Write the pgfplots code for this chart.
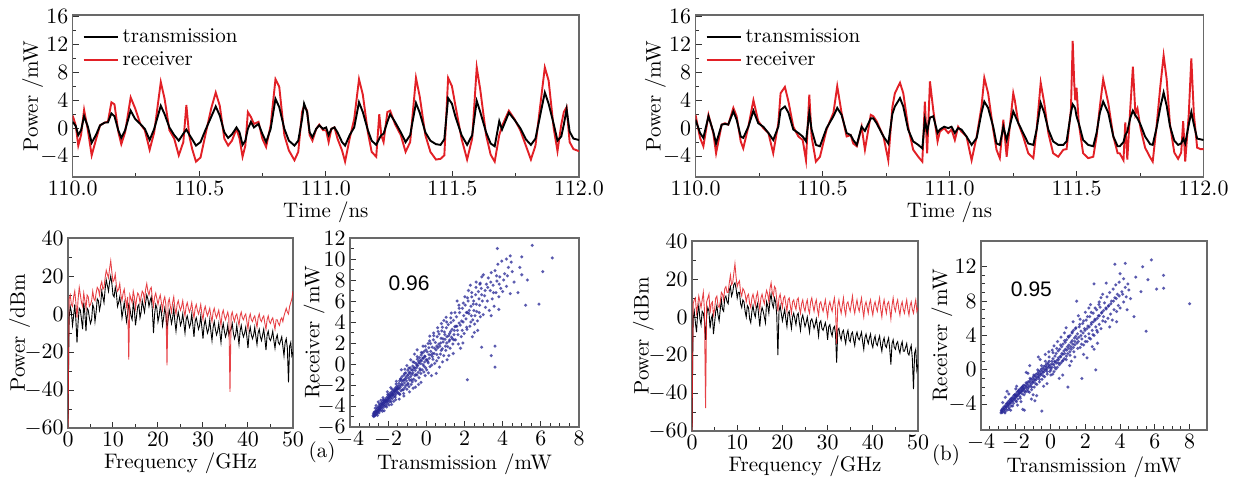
\documentclass[border=0pt]{standalone}
\usepackage{pgfplots}
\pgfplotsset{compat=1.18}
\usepackage{pgfplotstable}
\usepackage{fontspec}
\newfontfamily\arialf{Liberation Sans}
\definecolor{rred}{RGB}{226,32,38}
\definecolor{sblue}{RGB}{40,40,150}
\definecolor{frame}{RGB}{105,105,105}

\pgfplotsset{
  base/.style={scale only axis, anchor=south west,
    font=\fontsize{10.5}{12}\selectfont,
    axis line style={frame, line width=0.7pt},
    tick align=inside, xtick pos=left, ytick pos=left,
    major tick length=3pt, minor tick length=1.8pt,
    tick style={black!80, line width=0.5pt},
    xlabel style={inner sep=1pt}, ylabel style={inner sep=1pt},
    tick label style={inner sep=2pt}},
  ylab/.style={ylabel style={at={(axis description cs:#1,0.5)}, anchor=center}},
  timeax/.style={base, ylab=-0.079, xmin=110, xmax=112, ymin=-7, ymax=16.2,
    xtick={110,110.5,111,111.5,112}, ytick={-4,0,4,8,12,16},
    minor x tick num=1, minor y tick num=1,
    xticklabel style={/pgf/number format/.cd, fixed, fixed zerofill, precision=1},
    xlabel={Time /ns}, ylabel={Power /mW},
    legend style={draw=none, fill=none, at={(0.015,0.955)}, anchor=north west,
      font=\fontsize{10.5}{12}\selectfont, row sep=-1pt, inner sep=1pt},
    legend cell align=left,
    legend image code/.code={\draw[##1] (0pt,0pt) -- (17pt,0pt);}},
  specax/.style={base, ylab=-0.215, xmin=0, xmax=50, ymin=-60, ymax=40,
    xtick={0,10,...,50}, ytick={-60,-40,...,40},
    minor x tick num=1, minor y tick num=1,
    xlabel={Frequency /GHz}, ylabel={Power /dBm}},
  scat/.style={only marks, mark=*, mark size=0.6pt, color=sblue, opacity=0.6,
    mark options={draw=none, fill=sblue}},
}

\pgfplotstableread{
t b r
110.000 0.9 1.8
110.012 0.3 0.4
110.022 -1.0 -2.5
110.033 -0.3 -1.0
110.045 1.7 2.6
110.060 0.2 -0.3
110.075 -2.1 -3.9
110.093 -0.9 -1.5
110.108 0.4 0.4
110.127 0.8 0.8
110.139 0.8 0.9
110.153 2.1 3.7
110.165 1.7 3.4
110.180 -0.3 -0.5
110.192 -1.4 -2.3
110.207 -0.3 -0.6
110.229 2.5 4.4
110.247 1.3 2.8
110.267 0.6 0.6
110.285 -0.1 -0.3
110.304 -1.7 -3.1
110.322 -0.1 -0.6
110.348 3.2 6.6
110.363 2.0 4.2
110.382 0.1 -0.3
110.401 -1.0 -1.5
110.419 -1.8 -3.9
110.437 -0.8 -2.0
110.449 -0.2 3.3
110.460 -0.9 -1.0
110.472 -1.6 -3.0
110.487 -2.5 -4.8
110.505 -2.0 -4.2
110.524 -0.3 -1.0
110.547 1.6 2.8
110.565 3.1 5.1
110.581 1.8 3.2
110.599 -0.6 -1.5
110.614 -1.4 -2.5
110.629 -0.9 -1.8
110.647 0.1 -0.1
110.659 -0.6 -1.5
110.671 -2.4 -4.1
110.682 -1.8 -2.5
110.692 -0.1 2.3
110.704 0.9 1.6
110.716 0.1 0.6
110.734 0.6 0.9
110.749 -0.8 -1.5
110.764 -2.0 -2.7
110.782 -0.1 0.4
110.801 4.2 7.0
110.816 3.0 5.9
110.836 -0.1 -1.0
110.854 -1.8 -3.2
110.876 -2.5 -4.6
110.891 -1.8 -3.4
110.906 1.3 2.3
110.914 3.5 3.2
110.926 2.3 2.5
110.936 -0.6 -1.0
110.947 -1.3 -1.8
110.962 -0.1 -0.1
110.974 0.4 0.5
110.989 -0.1 -0.3
111.001 0.1 -0.3
111.011 -1.0 -2.0
111.022 -0.1 -0.1
111.034 0.1 0.1
111.046 -0.6 -1.5
111.064 -2.0 -3.2
111.076 -2.5 -4.8
111.094 -1.0 -1.5
111.112 0.1 1.3
111.131 3.7 7.0
111.146 2.3 4.8
111.166 -0.3 -0.6
111.181 -1.8 -3.4
111.199 -2.4 -4.1
111.211 -1.5 2.0
111.219 -1.0 -1.0
111.228 -0.8 -2.0
111.243 0.9 2.3
111.254 2.0 2.5
111.273 0.9 0.6
111.296 -0.6 -1.0
111.315 -2.0 -3.4
111.333 -1.0 -2.0
111.356 3.6 7.2
111.371 2.2 4.5
111.393 -0.6 -1.0
111.413 -1.8 -3.4
111.435 -2.3 -4.5
111.453 -2.4 -4.4
111.468 -1.6 -3.9
111.483 4.3 7.2
111.498 3.5 6.0
111.513 1.5 3.0
111.536 -1.0 -1.5
111.558 -2.4 -4.5
111.578 -1.0 -1.5
111.596 3.9 8.7
111.610 2.3 5.5
111.633 -0.6 -1.0
111.651 -2.2 -3.8
111.667 -2.6 -4.8
111.685 1.0 -1.0
111.696 -0.2 0.3
111.723 2.2 2.5
111.745 1.2 1.3
111.768 0.0 -0.3
111.790 -1.6 -2.5
111.810 -2.4 -4.5
111.828 -1.5 -2.5
111.865 5.1 8.7
111.880 3.5 6.8
111.900 0.6 0.0
111.915 -1.8 -3.3
111.930 -1.2 0.5
111.940 0.5 2.3
111.951 2.7 3.0
111.963 -0.5 -2.0
111.978 -1.5 -3.0
112.000 -1.7 -3.3
}\tsa

\pgfplotstableread{
t b r
110.000 1.2 1.9
110.018 -0.7 -1.4
110.031 -1.4 -2.6
110.051 1.7 1.9
110.070 -0.5 -0.7
110.081 -2.2 -3.6
110.103 0.5 0.5
110.116 0.6 0.7
110.129 0.5 0.5
110.149 2.4 2.9
110.162 1.2 1.7
110.178 -1.2 -1.9
110.188 -1.4 -2.9
110.208 0.2 0.2
110.228 2.5 4.0
110.247 0.7 1.0
110.267 0.2 0.0
110.287 -0.7 -0.7
110.306 -1.7 -3.6
110.326 0.2 0.7
110.335 2.6 5.0
110.352 3.1 5.9
110.366 2.2 3.8
110.385 -0.2 0.2
110.405 -0.7 -1.2
110.422 -1.2 -1.7
110.435 -1.9 -4.6
110.448 2.2 4.8
110.457 -0.2 -1.2
110.474 -2.4 -4.8
110.490 -2.6 -4.1
110.516 0.0 -0.2
110.543 1.7 2.2
110.558 2.9 6.0
110.575 1.9 2.2
110.595 -0.7 -1.2
110.611 -1.0 -1.0
110.621 -1.7 -2.2
110.635 -2.4 -2.6
110.654 0.2 0.2
110.667 -0.4 -3.1
110.690 1.4 1.9
110.700 1.4 1.7
110.713 0.7 1.0
110.740 -1.2 -1.2
110.759 -2.2 -4.6
110.775 2.0 3.0
110.785 3.1 5.0
110.805 4.3 6.5
110.818 3.1 5.0
110.837 -0.2 0.2
110.857 -1.9 -3.1
110.877 -2.4 -4.1
110.893 -2.9 -4.8
110.903 1.2 3.8
110.912 -0.5 -3.6
110.923 1.5 6.7
110.936 1.7 2.6
110.953 -0.7 -1.9
110.962 -0.2 -0.5
110.979 0.2 0.0
110.995 0.0 -0.7
111.008 0.2 -0.2
111.021 -0.7 -1.7
111.034 0.0 0.2
111.047 -0.2 -0.5
111.067 -1.2 -1.2
111.087 -2.4 -4.6
111.107 -1.4 -1.2
111.126 2.2 3.1
111.137 3.8 7.2
111.152 2.9 5.0
111.172 0.2 -0.2
111.185 -2.2 -3.1
111.198 -2.4 -4.3
111.212 0.2 1.2
111.225 -1.7 -4.1
111.251 2.4 5.0
111.257 1.9 4.0
111.271 0.7 0.7
111.290 -0.7 -1.2
111.310 -2.2 -3.6
111.330 -2.4 -4.3
111.343 -0.2 -0.2
111.359 3.6 6.5
111.373 2.2 3.6
111.389 -0.2 -0.7
111.408 -1.9 -3.6
111.428 -2.4 -4.1
111.448 -2.4 -3.1
111.461 -1.9 -3.0
111.478 2.2 2.6
111.485 3.4 12.5
111.491 3.1 6.5
111.495 2.8 4.0
111.500 1.7 5.8
111.509 0.7 0.7
111.526 -1.7 -3.6
111.546 -2.4 -4.3
111.566 -2.6 -4.1
111.579 -0.7 -1.2
111.592 2.2 3.1
111.605 3.8 7.0
111.625 2.2 3.6
111.645 -1.2 -1.2
111.662 -2.6 -3.6
111.670 -2.6 -3.6
111.685 -2.0 -4.6
111.692 -1.0 0.8
111.700 -0.5 -4.5
111.712 1.5 3.0
111.722 2.5 8.8
111.732 1.8 2.0
111.740 1.4 2.8
111.752 0.5 0.0
111.770 -1.2 -2.8
111.790 -2.3 -4.2
111.800 -2.4 -4.8
111.815 0.0 0.2
111.830 3.0 6.0
111.843 5.1 10.4
111.855 3.2 7.0
111.868 0.3 0.5
111.885 -1.8 -3.5
111.900 -2.4 -4.4
111.912 -2.2 -3.5
111.920 -1.5 1.0
111.928 -2.2 -4.8
111.942 0.5 2.0
111.952 2.3 10.0
111.962 0.5 2.0
111.975 -1.5 -2.8
111.988 -1.6 -3.0
112.000 -1.7 -3.0
}\tsb

\pgfplotstableread{
f ab ar bb br
0.0 -55 -60 -58 -60
0.25 -2 8 -1 7
0.5 4 10 3 9
0.75 1 5 -3 10
1.0 -6 4 -8 2
1.25 -1 9 2 6
1.5 5 12 6 11
1.75 -3 6 -1 8
2.0 -15 -2 -4 5
2.25 -4 8 3 9
2.5 3 14 2 13
2.75 2 10 -2 4
3.0 -3 6 -12 -48
3.25 -8 4 1 8
3.5 6 11 5 10
3.75 0 7 3 12
4.0 -9 3 -6 2
4.25 3 10 -1 7
4.5 2 9 1 8
4.75 -2 4 -9 1
5.0 -5 5 -3 4
5.25 -3 7 3 10
5.5 5 12 6 11
5.75 3 8 1 6
6.0 -4 7 -2 5
6.25 1 11 4 8
6.5 8 14 9 13
6.75 7 13 4 12
7.0 2 10 3 9
7.25 5 15 10 15
7.5 12 17 11 16
7.75 9 13 8 13
8.0 6 14 7 13
8.25 13 19 14 18
8.5 18 23 16 22
8.75 15 21 11 17
9.0 12 19 13 18
9.25 17 24 17 23
9.5 20 28 18 28
9.75 16 22 15 21
10.0 10 17 10 16
10.25 9 18 13 18
10.5 14 21 13 19
10.75 11 15 7 13
11.0 4 12 5 11
11.25 6 13 9 15
11.5 9 16 8 14
11.75 5 10 3 12
12.0 -2 7 0 8
12.25 2 11 6 11
12.5 6 13 5 12
12.75 1 8 -1 7
13.0 -4 4 -3 5
13.25 0 9 3 10
13.5 5 -24 6 12
13.75 3 10 2 9
14.0 -1 8 0 6
14.25 -3 6 5 11
14.5 6 12 7 13
14.75 2 9 1 8
15.0 -6 3 -5 4
15.25 -1 8 2 10
15.5 4 11 5 12
15.75 5 10 3 9
16.0 -2 6 0 7
16.25 1 9 -3 11
16.5 7 12 8 14
16.75 4 11 6 12
17.0 1 7 2 8
17.25 6 13 9 15
17.5 10 16 12 18
17.75 8 12 7 13
18.0 4 10 5 11
18.25 7 13 10 16
18.5 9 14 8 15
18.75 2 8 1 9
19.0 -10 4 -20 3
19.25 0 9 3 10
19.5 5 11 6 12
19.75 3 8 2 8
20.0 -4 5 -2 5
20.25 -1 8 1 10
20.5 4 10 4 11
20.75 1 6 -1 7
21.0 -6 2 -5 3
21.25 -2 7 2 9
21.5 3 9 3 10
21.75 0 5 -2 6
22.0 -8 -27 -6 2
22.25 -3 6 0 8
22.5 2 8 2 9
22.75 -1 4 -1 6
23.0 -5 1 -4 4
23.25 -2 6 1 9
23.5 3 9 2 10
23.75 -4 3 -3 5
24.0 -9 0 -7 2
24.25 -3 5 -1 7
24.5 1 7 1 9
24.75 -2 4 -2 5
25.0 -6 2 -5 3
25.25 -4 4 -3 7
25.5 0 7 0 9
25.75 -5 2 -4 4
26.0 -10 -1 -8 2
26.25 -3 4 -2 8
26.5 -1 6 -1 10
26.75 -4 3 -3 6
27.0 -7 1 -6 3
27.25 -5 3 -4 7
27.5 0 6 -1 9
27.75 -6 1 -5 4
28.0 -12 -2 -10 1
28.25 -4 3 -3 7
28.5 -2 5 -2 8
28.75 -5 2 -6 5
29.0 -8 0 -7 3
29.25 -6 2 -5 6
29.5 -1 5 -3 9
29.75 -7 0 -6 4
30.0 -13 -3 -12 0
30.25 -6 2 -5 6
30.5 -3 4 -4 8
30.75 -7 1 -8 5
31.0 -10 -1 -10 3
31.25 -8 1 -6 7
31.5 -3 3 -5 10
31.75 -9 -1 -9 4
32.0 -14 -4 -24 -14
32.25 -7 1 -7 6
32.5 -4 3 -6 9
32.75 -8 0 -10 5
33.0 -11 -2 -12 2
33.25 -9 0 -8 6
33.5 -5 2 -7 10
33.75 -10 -2 -11 4
34.0 -15 -6 -14 1
34.25 -8 0 -9 7
34.5 -5 2 -7 8
34.75 -9 -1 -12 5
35.0 -12 -3 -13 3
35.25 -10 -1 -9 7
35.5 -6 1 -8 11
35.75 -11 -2 -12 5
36.0 -9 -41 -15 2
36.25 -8 -1 -10 6
36.5 -5 1 -8 9
36.75 -10 -2 -11 5
37.0 -13 -4 -12 3
37.25 -11 -1 -10 7
37.5 -6 0 -8 10
37.75 -11 -3 -13 4
38.0 -16 -6 -17 0
38.25 -9 -1 -11 6
38.5 -6 1 -9 8
38.75 -10 -2 -12 5
39.0 -12 -3 -14 2
39.25 -10 -1 -11 7
39.5 -7 0 -9 9
39.75 -12 -4 -14 4
40.0 -18 -8 -16 1
40.25 -10 -2 -12 6
40.5 -7 0 -10 8
40.75 -11 -3 -14 5
41.0 -13 -4 -15 3
41.25 -11 -2 -12 7
41.5 -7 -1 -10 10
41.75 -12 -4 -15 4
42.0 -16 -7 -18 0
42.25 -10 -2 -13 6
42.5 -8 0 -11 9
42.75 -12 -3 -15 5
43.0 -14 -4 -16 2
43.25 -11 -2 -13 7
43.5 -8 -1 -11 8
43.75 -13 -5 -17 4
44.0 -19 -8 -25 -1
44.25 -11 -3 -14 6
44.5 -9 -1 -12 10
44.75 -13 -4 -16 5
45.0 -14 -5 -17 3
45.25 -12 -3 -14 7
45.5 -9 -2 -13 9
45.75 -14 -5 -17 4
46.0 -18 -8 -19 1
46.25 -13 -3 -15 6
46.5 -11 -3 -13 8
46.75 -15 -5 -18 4
47.0 -16 -6 -18 2
47.25 -14 -3 -16 6
47.5 -12 -2 -14 9
47.75 -17 -4 -19 4
48.0 -22 -1 -20 1
48.25 -15 1 -17 6
48.5 -13 3 -15 8
48.75 -18 1 -22 4
49.0 -36 0 -38 2
49.25 -17 4 -19 6
49.5 -15 6 -17 9
49.75 -22 8 -28 3
50.0 -20 12 -25 5
}\spec

\begin{document}
\begin{tikzpicture}
\path[use as bounding box] (0pt,0pt) rectangle (618pt,239pt);

% ---------- top left (a)
\begin{axis}[timeax, at={(36.35pt,150.5pt)}, width=253.15pt, height=81pt]
\addlegendimage{black, line width=1pt}\addlegendentry{transmission}
\addlegendimage{rred, line width=1pt}\addlegendentry{receiver}
\addplot[rred, line width=0.95pt, forget plot] table[x=t, y=r]{\tsa};
\addplot[black, line width=0.95pt, forget plot] table[x=t, y=b]{\tsa};
\end{axis}

% ---------- top right (b)
\begin{axis}[timeax, at={(347.75pt,150.5pt)}, width=254pt, height=81pt]
\addlegendimage{black, line width=1pt}\addlegendentry{transmission}
\addlegendimage{rred, line width=1pt}\addlegendentry{receiver}
\addplot[rred, line width=0.95pt, forget plot] table[x=t, y=r]{\tsb};
\addplot[black, line width=0.95pt, forget plot] table[x=t, y=b]{\tsb};
\end{axis}

% ---------- spectrum (a)
\begin{axis}[specax, at={(34pt,25pt)}, width=112.5pt, height=95pt]
\addplot[black, line width=0.45pt] table[x=f, y=ab]{\spec};
\addplot[rred, line width=0.45pt, opacity=0.85] table[x=f, y=ar]{\spec};
\end{axis}

% ---------- spectrum (b)
\begin{axis}[specax, at={(346pt,23.5pt)}, width=113pt, height=95pt]
\addplot[black, line width=0.45pt] table[x=f, y=bb]{\spec};
\addplot[rred, line width=0.45pt, opacity=0.85] table[x=f, y=br]{\spec};
\end{axis}

% ---------- scatter (a)
\begin{axis}[base, ylab=-0.157, at={(175pt,25.5pt)}, width=114.5pt, height=94.5pt,
  xmin=-4, xmax=8, ymin=-6, ymax=12,
  xtick={-4,-2,...,8}, ytick={-6,-4,...,12},
  minor x tick num=3, minor y tick num=1,
  xlabel={Transmission /mW}, ylabel={Receiver /mW}]
\addplot[scat] coordinates {
(-2.79,-4.9) (-2.77,-4.75) (-2.76,-5.0) (-2.73,-4.7) (-2.71,-4.95) (-2.70,-4.55) (-2.69,-4.8) (-2.66,-4.85) (-2.65,-4.5) (-2.63,-4.65) (-2.61,-4.35) (-2.60,-4.75) (-2.58,-4.55) (-2.57,-4.2) (-2.55,-4.6) (-2.53,-4.45) (-2.52,-4.1) (-2.49,-4.4) (-2.48,-4.65) (-2.46,-4.0) (-2.45,-4.3) (-2.43,-4.45) (-2.41,-3.85) (-2.40,-4.2) (-2.38,-4.0) (-2.36,-4.35) (-2.35,-3.7) (-2.33,-4.1) (-2.31,-3.9) (-2.29,-3.6) (-2.28,-4.2) (-2.26,-3.75) (-2.24,-3.95) (-2.23,-3.5) (-2.21,-3.85) (-2.19,-4.05) (-2.17,-3.4) (-2.16,-3.7) (-2.14,-3.55) (-2.12,-3.95) (-2.10,-3.25) (-2.09,-3.6) (-2.07,-3.45) (-2.05,-3.8) (-2.03,-3.1) (-2.02,-3.5) (-2.00,-3.3) (-1.98,-3.65) (-1.96,-2.95) (-1.95,-3.35) (-1.93,-3.15) (-1.91,-2.8) (-1.90,-3.5) (-1.88,-3.0) (-1.86,-3.25) (-1.84,-2.7) (-1.83,-3.05) (-1.81,-2.85) (-1.79,-3.3) (-1.77,-2.6) (-1.76,-2.95) (-1.74,-2.75) (-1.72,-3.1) (-1.70,-2.45) (-1.69,-2.8) (-1.67,-2.55) (-1.65,-3.0) (-1.63,-2.3) (-1.62,-2.65) (-1.60,-2.45) (-1.58,-2.85) (-1.56,-2.15) (-1.55,-2.5) (-1.53,-2.3) (-1.51,-2.7)
(-2.52,-3.6) (-2.21,-4.45) (-1.87,-2.25) (-2.63,-3.95) (-1.71,-3.55) (-2.04,-2.65) (-1.61,-3.4) (-2.38,-3.45) (-1.82,-3.85) (-1.57,-1.65) (-2.68,-4.2) (-2.27,-3.2) (-1.95,-3.9)
(-1.49,-2.1) (-1.47,-2.75) (-1.44,-1.85) (-1.43,-2.35) (-1.40,-1.6) (-1.39,-2.9) (-1.36,-2.2) (-1.34,-1.45) (-1.33,-2.55) (-1.30,-1.9) (-1.27,-1.2) (-1.26,-2.45) (-1.24,-2.0) (-1.21,-1.55) (-1.19,-2.8) (-1.17,-1.05) (-1.15,-1.8) (-1.13,-2.25) (-1.10,-1.4) (-1.08,-0.85) (-1.07,-2.05) (-1.04,-1.6) (-1.02,-2.4) (-0.99,-1.1) (-0.97,-0.6) (-0.96,-1.85) (-0.93,-1.35) (-0.91,-2.15) (-0.89,-0.8) (-0.86,-1.55) (-0.85,-0.35) (-0.83,-1.2) (-0.80,-1.95) (-0.78,-0.55) (-0.76,-1.0) (-0.74,-1.7) (-0.71,-0.2) (-0.70,-0.85) (-0.67,-1.45) (-0.65,-0.4) (-0.63,0.15) (-0.60,-1.1) (-0.58,-0.6) (-0.56,-1.6) (-0.54,0.05) (-0.51,-0.35) (-0.49,-1.05) (-0.47,0.45) (-0.45,-0.15) (-0.43,-0.8) (-0.40,0.25) (-0.38,-1.3) (-0.36,0.6) (-0.34,-0.45) (-0.31,0.05) (-0.29,-0.9) (-0.27,0.85) (-0.25,0.3) (-0.22,-0.55) (-0.20,1.05) (-0.18,-0.05) (-0.16,0.55) (-0.13,-0.75) (-0.11,1.2) (-0.09,0.2) (-0.07,0.7) (-0.04,-0.35) (-0.02,1.35) (-0.01,0.4)
(-1.31,-0.55) (-0.88,-2.65) (-0.62,0.95) (-0.28,-1.75) (-1.02,-0.15) (-0.48,1.35) (-1.18,-3.05) (-0.17,1.7) (-0.69,-2.3) (-1.42,-3.35) (-0.82,0.4) (-0.41,-1.95) (-1.12,-0.5) (-0.57,-2.2) (-0.06,-1.1)
(0.02,-0.55) (0.05,1.15) (0.07,0.25) (0.11,-0.85) (0.13,1.55) (0.16,0.55) (0.19,-0.25) (0.22,1.95) (0.25,0.85) (0.28,-0.1) (0.31,1.6) (0.35,0.45) (0.37,2.3) (0.41,1.0) (0.44,0.05) (0.47,2.05) (0.51,1.35) (0.54,0.3) (0.57,2.6) (0.61,1.55) (0.64,0.6) (0.67,2.85) (0.71,1.7) (0.74,0.95) (0.77,2.45) (0.81,3.15) (0.84,1.45) (0.88,2.1) (0.91,0.8) (0.95,3.05) (0.98,2.35) (1.02,1.3) (1.05,3.45) (1.08,2.6) (1.12,1.65) (1.15,3.75) (1.19,2.15) (1.22,2.9) (1.25,1.5) (1.29,3.95) (1.32,2.55) (1.35,3.3) (1.39,1.9) (1.42,4.15) (1.45,2.8) (1.49,3.55)
(0.18,2.65) (0.52,-0.9) (0.79,3.85) (1.09,0.4) (0.38,2.95) (1.31,4.85) (0.69,-0.3) (1.18,0.8) (0.09,1.95) (0.92,4.15) (1.41,1.0) (0.59,3.45) (0.27,-1.1) (1.04,4.45) (0.85,0.2)
(1.53,2.3) (1.58,4.5) (1.63,3.2) (1.68,1.9) (1.74,4.9) (1.78,3.7) (1.83,2.6) (1.89,5.3) (1.93,4.0) (1.98,2.9) (2.04,5.6) (2.08,4.3) (2.13,3.3) (2.19,6.0) (2.23,4.8) (2.28,3.6) (2.34,5.5) (2.38,6.4) (2.43,4.2) (2.49,5.1) (2.53,3.8) (2.58,6.6) (2.64,5.0) (2.68,4.1) (2.73,6.9) (2.79,5.6) (2.83,4.5) (2.88,7.2) (2.94,6.0) (2.98,4.7)
(1.61,6.0) (1.92,2.0) (2.21,7.0) (2.52,3.0) (2.81,7.6) (1.71,5.6) (2.02,6.4) (2.41,2.6) (2.69,3.2) (2.91,8.3) (2.31,7.5) (1.79,1.5) (2.61,7.8) (2.99,8.5) (1.55,3.6) (2.15,4.9) (2.46,5.7)
(3.05,6.5) (3.10,5.4) (3.15,7.6) (3.20,6.0) (3.25,8.2) (3.30,5.1) (3.35,7.0) (3.40,8.7) (3.45,6.2) (3.50,7.5) (3.55,5.5) (3.60,8.9) (3.65,6.8) (3.70,7.9) (3.75,9.5) (3.80,6.4) (3.85,8.3) (3.90,7.2) (3.95,9.8) (4.00,6.9) (4.10,8.6) (4.20,7.4) (4.30,9.2) (4.40,6.7) (4.50,8.8) (4.60,7.8) (3.4,4.6) (3.8,5.2) (4.2,10.0) (4.45,9.7)
(3.72,11.0) (4.40,10.3) (5.00,10.2) (5.55,11.3) (6.60,10.1) (6.10,8.8) (5.20,5.6) (5.90,5.7) (3.60,-0.3) (2.15,-1.5) (3.40,0.8) (3.60,1.7) (2.90,1.6) (4.90,9.2) (5.30,8.0) (4.80,6.8) (5.00,8.5)
(-2.74,-4.6) (-2.62,-4.5) (-2.50,-4.3) (-2.44,-4.15) (-2.32,-3.8) (-2.20,-3.65) (-2.11,-3.45) (-1.99,-3.2) (-1.89,-3.05) (-1.78,-2.9) (-1.66,-2.6) (-1.54,-2.4) (-1.46,-2.3) (-1.37,-2.05) (-1.28,-1.65) (-1.16,-1.5) (-1.06,-1.25) (-0.94,-1.0) (-0.84,-0.85) (-0.72,-0.6) (-0.61,-0.35) (-0.50,-0.1) (-0.39,0.1) (-0.30,0.35) (-0.19,0.55) (-0.08,0.75) (0.04,0.4) (0.14,0.9) (0.23,1.2) (0.33,1.0) (0.43,1.5) (0.55,1.7) (0.65,1.9) (0.75,2.0) (0.87,2.4) (0.97,2.8) (1.07,2.0) (1.17,2.7) (1.27,3.1) (1.37,2.4) (1.47,3.2) (1.60,3.6) (1.72,3.9) (1.85,4.1) (1.96,4.6) (2.10,4.9) (2.25,5.1) (2.36,4.6) (2.48,6.0) (2.62,5.7) (2.76,6.2) (2.90,6.6) (3.08,7.0) (3.22,7.3) (3.38,7.8) (3.52,6.8) (3.68,8.4) (3.82,7.6) (4.05,8.0) (4.25,8.4)
(-2.56,-4.9) (-2.30,-4.5) (-2.08,-4.1) (-1.85,-3.6) (-1.63,-3.15) (-1.41,-2.85) (-1.20,-2.45) (-0.98,-1.95) (-0.77,-1.5) (-0.55,-1.0) (-0.33,-0.6) (-0.12,-0.2) (0.10,0.1) (0.32,0.7) (0.55,0.9) (0.78,1.3) (1.00,1.7) (1.23,2.3) (1.45,2.3) (1.66,2.8) (1.88,3.2) (2.11,3.5) (2.33,4.0) (2.55,4.6) (2.77,4.9)
(-2.47,-3.8) (-2.25,-3.4) (-2.02,-2.9) (-1.80,-2.4) (-1.58,-1.9) (-1.35,-1.4) (-1.14,-0.9) (-0.92,-0.4) (-0.70,0.2) (-0.48,0.7) (-0.26,1.1) (-0.05,1.7) (0.17,2.2) (0.39,2.7) (0.62,3.1) (0.84,3.5) (1.06,4.0) (1.28,4.4) (1.50,4.9) (1.72,5.3) (1.94,5.8) (2.16,6.3) (2.38,6.8) (2.60,7.3) (2.82,7.7)
};
\node[font=\arialf\fontsize{10.5}{12}\selectfont] at (axis cs:-0.9,7.7) {0.96};
\end{axis}

% ---------- scatter (b)
\begin{axis}[base, ylab=-0.173, at={(490.5pt,24pt)}, width=113pt, height=94.5pt,
  xmin=-4, xmax=9, ymin=-7, ymax=15,
  xtick={-4,-2,...,8}, ytick={-4,0,...,12},
  minor x tick num=3, minor y tick num=3,
  xlabel={Transmission /mW}, ylabel={Receiver /mW}]
\addplot[scat] coordinates {
(-2.85,-5.0) (-2.83,-4.75) (-2.81,-4.9) (-2.79,-4.6) (-2.76,-4.95) (-2.74,-4.45) (-2.71,-4.75) (-2.68,-4.3) (-2.66,-4.6) (-2.63,-4.85) (-2.61,-4.2) (-2.58,-4.5) (-2.56,-4.0) (-2.54,-4.35) (-2.51,-4.7) (-2.48,-3.9) (-2.46,-4.2) (-2.43,-3.7) (-2.41,-4.05) (-2.38,-4.4) (-2.36,-3.6) (-2.33,-3.9) (-2.31,-3.45) (-2.28,-3.8) (-2.26,-4.2) (-2.23,-3.3) (-2.21,-3.65) (-2.18,-3.2) (-2.16,-3.55) (-2.13,-3.9) (-2.11,-3.0) (-2.08,-3.4) (-2.06,-2.9) (-2.03,-3.25) (-2.01,-3.6) (-1.98,-2.8) (-1.96,-3.1) (-1.93,-2.6) (-1.91,-3.0) (-1.88,-3.4) (-1.86,-2.5) (-1.83,-2.8) (-1.81,-2.35) (-1.78,-2.7) (-1.76,-3.1) (-1.73,-2.2) (-1.71,-2.55) (-1.68,-2.1) (-1.66,-2.45) (-1.63,-2.8) (-1.61,-1.95) (-1.58,-2.3) (-1.56,-1.8) (-1.53,-2.15) (-1.51,-2.5)
(-2.6,-3.2) (-2.3,-4.7) (-2.0,-2.2) (-1.7,-3.7) (-2.4,-2.8) (-1.6,-4.6) (-1.5,-4.7) (-2.75,-3.8) (-1.9,-4.1) (-2.5,-2.5) (-1.95,-1.9)
(-1.48,-1.8) (-1.45,-2.6) (-1.41,-1.9) (-1.39,-2.4) (-1.36,-1.6) (-1.31,-2.2) (-1.30,-1.4) (-1.27,-2.0) (-1.22,-2.6) (-1.21,-1.3) (-1.18,-1.9) (-1.13,-1.1) (-1.12,-1.7) (-1.09,-2.3) (-1.04,-1.0) (-1.03,-1.5) (-0.98,-0.8) (-0.97,-1.4) (-0.94,-2.0) (-0.89,-0.7) (-0.88,-1.2) (-0.83,-0.5) (-0.82,-1.1) (-0.79,-1.7) (-0.74,-0.4) (-0.73,-0.9) (-0.68,-0.2) (-0.67,-0.8) (-0.64,-1.4) (-0.59,-0.1) (-0.58,-0.6) (-0.53,0.1) (-0.52,-0.5) (-0.49,-1.1) (-0.44,0.2) (-0.43,-0.3) (-0.38,0.4) (-0.37,-0.2) (-0.34,-0.8) (-0.29,0.5) (-0.28,0.0) (-0.23,0.7) (-0.22,0.1) (-0.19,-0.5) (-0.14,0.8) (-0.13,0.3) (-0.08,1.0) (-0.07,0.4) (-0.04,-0.2) (0.01,0.6)
(-1.3,-0.4) (-1.0,-2.9) (-0.6,1.2) (-0.5,-4.8) (-0.8,-3.0) (-1.2,0.5) (-0.3,1.8) (-0.9,-3.6) (-0.4,-1.9) (-1.1,-3.4) (-0.7,1.5) (-0.2,-1.6) (-1.4,-0.3) (-0.1,2.1)
(0.02,0.0) (0.07,1.0) (0.08,0.3) (0.13,-0.5) (0.14,1.3) (0.19,0.6) (0.20,-0.2) (0.25,1.6) (0.26,0.9) (0.31,0.1) (0.32,1.9) (0.37,1.1) (0.39,0.3) (0.44,2.2) (0.45,1.4) (0.51,0.6) (0.52,2.4) (0.57,1.6) (0.59,0.8) (0.64,2.7) (0.65,1.9) (0.71,1.1) (0.72,3.0) (0.77,2.2) (0.79,1.3) (0.84,3.2) (0.85,2.4) (0.91,1.6) (0.92,3.5) (0.97,2.7) (0.99,1.9) (1.04,3.8) (1.05,2.9) (1.11,2.1) (1.12,4.0) (1.17,3.2) (1.19,2.4) (1.24,4.3) (1.25,3.4) (1.31,2.6) (1.32,4.6) (1.37,3.7) (1.39,2.9) (1.44,4.8) (1.45,3.9) (1.51,3.1)
(0.2,2.8) (0.5,-1.0) (0.8,4.3) (1.1,0.5) (0.4,3.3) (1.3,5.6) (0.7,-0.6) (1.2,1.0) (0.1,2.3) (0.9,4.9) (1.4,1.5) (0.6,3.8) (1.0,-2.0) (1.8,-1.0)
(1.55,4.2) (1.60,3.3) (1.65,5.0) (1.70,2.6) (1.75,4.5) (1.80,3.6) (1.85,5.4) (1.90,2.9) (1.95,4.8) (2.00,3.9) (2.05,5.8) (2.10,3.3) (2.15,5.1) (2.20,4.2) (2.25,6.2) (2.30,3.6) (2.35,5.5) (2.40,4.6) (2.45,6.6) (2.50,4.0) (2.55,5.9) (2.60,5.0) (2.65,7.0) (2.70,4.4) (2.75,6.3) (2.80,5.3) (2.85,7.3) (2.90,4.8) (2.95,6.7) (3.00,5.7)
(1.6,6.3) (1.9,1.8) (2.2,7.2) (2.5,2.4) (2.8,7.9) (1.7,5.9) (2.0,6.7) (2.4,2.7) (2.7,3.1) (2.9,8.4) (2.3,7.6) (2.6,0.0) (3.0,8.8) (2.1,1.4)
(3.05,6.2) (3.10,7.8) (3.15,5.6) (3.20,7.1) (3.25,8.5) (3.30,6.0) (3.35,7.5) (3.40,9.0) (3.45,6.5) (3.50,8.0) (3.55,5.8) (3.60,9.4) (3.65,7.0) (3.70,8.4) (3.75,9.9) (3.80,6.8) (3.85,8.8) (3.90,7.5) (3.95,10.2) (4.00,7.2) (4.10,9.1) (4.20,7.9) (4.30,9.6) (4.40,7.0) (4.50,9.3) (4.60,8.3) (3.4,5.0) (3.8,5.6) (4.2,10.6) (4.45,10.0)
(8.0,7.7) (5.8,12.8) (6.5,11.0) (3.7,12.3) (4.3,12.4) (5.3,12.0) (6.1,9.4) (6.5,9.5) (5.5,4.5) (4.9,10.8) (5.2,9.1) (4.8,6.2) (5.6,10.5) (3.2,10.1) (2.5,10.0) (1.5,8.0) (4.0,11.2)
(-2.80,-4.7) (-2.69,-4.55) (-2.57,-4.3) (-2.45,-4.1) (-2.34,-3.85) (-2.22,-3.6) (-2.10,-3.35) (-1.99,-3.1) (-1.87,-2.9) (-1.75,-2.65) (-1.64,-2.4) (-1.52,-2.2) (-1.40,-2.05) (-1.29,-1.75) (-1.17,-1.5) (-1.05,-1.3) (-0.94,-1.1) (-0.82,-0.85) (-0.70,-0.6) (-0.59,-0.4) (-0.47,-0.15) (-0.35,0.05) (-0.24,0.3) (-0.12,0.55) (0.00,0.2) (0.11,0.7) (0.23,1.0) (0.35,0.8) (0.46,1.2) (0.58,1.5) (0.70,1.8) (0.81,1.9) (0.93,2.3) (1.05,2.5) (1.16,2.7) (1.28,3.0) (1.40,3.3) (1.52,3.6) (1.63,3.8) (1.75,4.0) (1.87,4.3) (1.98,4.6) (2.10,4.8) (2.22,5.0) (2.34,5.3) (2.46,5.6) (2.57,5.8) (2.69,6.0) (2.81,6.3) (2.93,6.6) (3.05,6.9) (3.18,7.2) (3.32,7.4) (3.47,7.7) (3.62,8.0) (3.78,8.3) (3.95,8.6) (4.15,8.8) (4.35,8.5)
(-2.62,-5.0) (-2.40,-4.6) (-2.18,-4.2) (-1.96,-3.7) (-1.74,-3.3) (-1.52,-2.9) (-1.30,-2.5) (-1.08,-2.0) (-0.86,-1.6) (-0.64,-1.1) (-0.42,-0.7) (-0.20,-0.2) (0.02,-0.6) (0.24,0.3) (0.46,0.8) (0.68,1.0) (0.90,1.2) (1.12,1.7) (1.34,2.1) (1.56,2.5) (1.78,3.0) (2.00,3.3) (2.22,3.7) (2.44,4.1) (2.66,4.6)
(-2.50,-3.9) (-2.28,-3.4) (-2.06,-2.9) (-1.84,-2.4) (-1.62,-2.0) (-1.40,-1.5) (-1.18,-1.0) (-0.96,-0.6) (-0.74,0.0) (-0.52,0.5) (-0.30,1.0) (-0.08,1.5) (0.14,2.0) (0.36,2.5) (0.58,2.9) (0.80,3.4) (1.02,3.9) (1.24,4.4) (1.46,4.9) (1.68,5.3) (1.90,5.7) (2.12,6.2) (2.34,6.7) (2.56,7.2) (2.78,7.6)
};
\node[font=\arialf\fontsize{10.5}{12}\selectfont] at (axis cs:-1.1,9.4) {0.95};
\end{axis}

\node[font=\fontsize{10.5}{12}\selectfont] at (161pt,13pt) {(a)};
\node[font=\fontsize{10.5}{12}\selectfont] at (473pt,11.5pt) {(b)};
\end{tikzpicture}
\end{document}
